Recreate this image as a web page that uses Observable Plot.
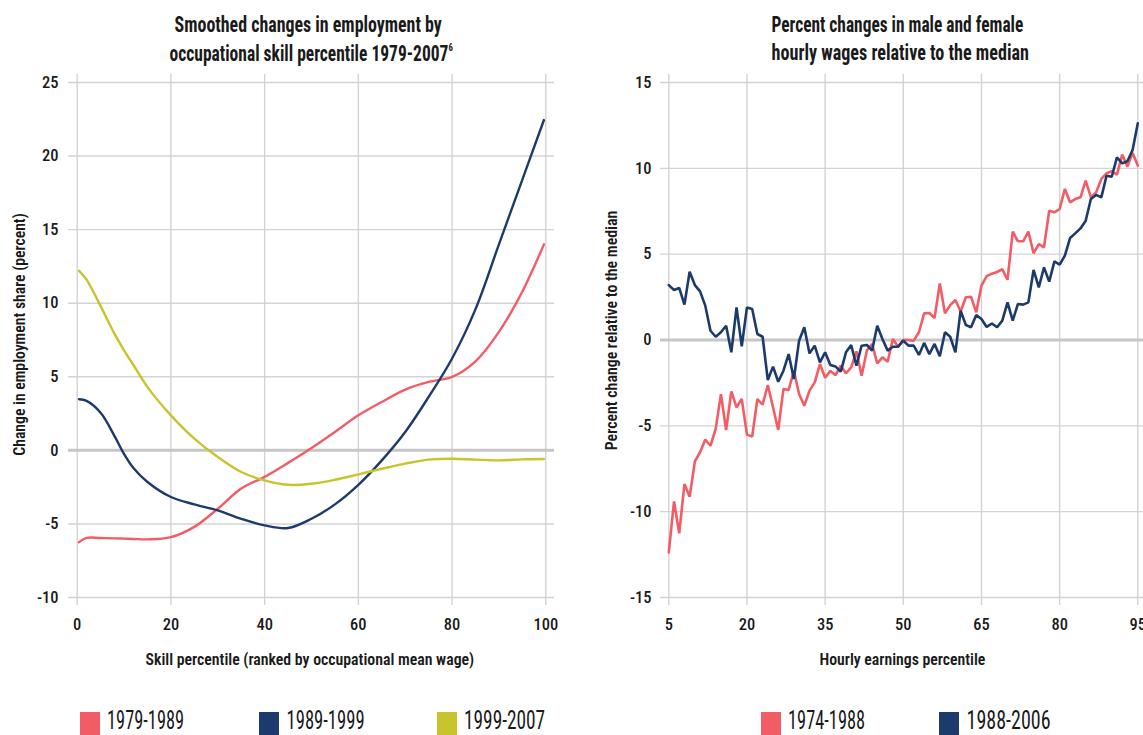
<!DOCTYPE html>
<html><head><meta charset="utf-8">
<script src="https://cdn.jsdelivr.net/npm/d3@7"></script>
<script src="https://cdn.jsdelivr.net/npm/@observablehq/plot@0.6"></script>
<style>
body{margin:0;background:#fff;}
#root{position:relative;width:1143px;height:735px;overflow:hidden;background:#fff;}
.abs{position:absolute;white-space:nowrap;}
svg{position:absolute;overflow:visible;}
</style></head><body><div id="root"></div>
<script>
// ---------- Left chart data ----------
const skillSeries = ["1979-1989", "1989-1999", "1999-2007"];
const skillPct = [0.4, 2, 5, 8, 10, 12, 15, 20, 25, 30, 35, 40, 45, 50, 55, 60, 65, 70, 75, 80, 85, 90, 95, 99.6];
const emp1979_1989 = [-6.24, -5.95, -5.96, -5.98, -6.0, -6.02, -6.05, -5.9, -5.2, -3.97, -2.6, -1.8, -0.85, 0.16, 1.25, 2.38, 3.29, 4.13, 4.65, 4.99, 6.05, 8.05, 10.8, 14.0];
const emp1989_1999 = [3.47, 3.36, 2.55, 0.95, -0.25, -1.2, -2.15, -3.17, -3.67, -4.08, -4.65, -5.1, -5.28, -4.65, -3.67, -2.34, -0.68, 1.25, 3.63, 6.24, 9.6, 14.0, 18.4, 22.45];
const emp1999_2007 = [12.2, 11.6, 9.8, 7.9, 6.8, 5.8, 4.3, 2.38, 0.8, -0.45, -1.47, -2.04, -2.34, -2.27, -2.0, -1.63, -1.25, -0.9, -0.63, -0.57, -0.63, -0.68, -0.61, -0.59];
const skillTicks = [0, 20, 40, 60, 80, 100];
const empTicks = [-10, -5, 0, 5, 10, 15, 20, 25];

// ---------- Right chart data ----------
const wageSeries = ["1974-1988", "1988-2006"];
const wagePct = [5,6,7,8,9,10,11,12,13,14,15,16,17,18,19,20,21,22,23,24,25,26,27,28,29,30,31,32,33,34,35,36,37,38,39,40,41,42,43,44,45,46,47,48,49,50,51,52,53,54,55,56,57,58,59,60,61,62,63,64,65,66,67,68,69,70,71,72,73,74,75,76,77,78,79,80,81,82,83,84,85,86,87,88,89,90,91,92,93,94,95];
const wage1974_1988 = [-12.37,-9.4,-11.26,-8.39,-9.13,-7.07,-6.54,-5.8,-6.16,-5.18,-3.15,-5.24,-2.99,-3.92,-3.44,-5.51,-5.63,-3.44,-3.77,-2.62,-3.92,-5.24,-2.85,-2.91,-1.79,-3.15,-3.83,-2.95,-2.47,-1.4,-2.2,-1.8,-2.05,-1.5,-1.94,-1.59,-0.66,-2.08,-0.62,-0.23,-1.36,-1.01,-1.26,0.06,-0.39,0,0,-0.04,0.45,1.55,1.57,1.28,3.3,1.55,2.03,2.33,1.66,2.49,2.52,1.61,3.17,3.72,3.86,3.96,4.12,3.51,6.31,5.75,5.75,6.31,5.05,5.59,5.4,7.53,7.44,7.63,8.8,8.02,8.21,8.31,9.28,8.31,8.6,9.38,9.71,9.83,9.63,10.8,10.1,10.9,10.16];
const wage1988_2006 = [3.2,2.91,3.03,2.06,3.98,3.2,2.83,2.0,0.54,0.19,0.45,0.83,-0.72,1.9,-0.37,1.9,1.81,0.35,0.19,-2.33,-1.55,-2.43,-1.79,-0.82,-2.27,-0.04,0.74,-0.78,-0.33,-1.3,-0.72,-1.46,-1.55,-1.84,-0.72,-0.29,-1.5,-0.33,-0.29,-0.62,0.83,0.06,-0.62,-0.39,-0.39,-0.04,-0.33,-0.33,-0.87,-0.17,-0.82,-0.23,-0.95,0.45,0.19,-0.72,1.71,0.87,0.74,1.46,1.22,0.76,0.96,0.74,1.13,2.19,1.13,2.1,2.06,2.19,4.08,3.07,4.23,3.4,4.58,4.39,4.91,5.94,6.21,6.5,6.95,8.21,8.45,8.31,9.57,9.51,10.64,10.29,10.41,11.07,12.62];
const wageXTicks = [5, 20, 35, 50, 65, 80, 95];
const wageYTicks = [-15, -10, -5, 0, 5, 10, 15];

// ---------- Styling ----------
const RED = "#f25c64", NAVY = "#1d3a6c", OLIVE = "#c8c42c", GRID = "#d3d3d3", ZERO = "#c6c6c6";
const FONT = '"Liberation Sans Narrow","Roboto Condensed","DejaVu Sans Condensed","Liberation Sans",Arial,sans-serif';
const fmt = d => (d < 0 ? "-" + Math.abs(d) : String(d));
const root = document.getElementById("root");

function fitText(html, {cx, cy, width, size, weight = 400, rotate = 0, lh = 1, color = "#1a1a1a"}) {
  const div = document.createElement("div");
  div.className = "abs";
  div.style.font = `${weight} ${size}px ${FONT}`;
  div.style.lineHeight = String(lh);
  div.style.color = color;
  div.innerHTML = html;
  root.appendChild(div);
  const w = div.offsetWidth, h = div.offsetHeight;
  const sx = width ? width / w : 1;
  div.style.left = (cx - w / 2) + "px";
  div.style.top = (cy - h / 2) + "px";
  div.style.transformOrigin = "50% 50%";
  div.style.transform = `${rotate ? `rotate(${rotate}deg) ` : ""}scaleX(${sx})`;
  return div;
}

// squeeze tick labels to the narrow width of the reference digits
function condenseTicks(svg, target) {
  const texts = [...svg.querySelectorAll("text")];
  const ref = texts.find(t => t.textContent === "20");
  const len = ref ? ref.getComputedTextLength() : 0;
  const f = len > 0 ? target / len : 1;
  if (f >= 1) return;
  texts.forEach(t => {
    const l = t.getComputedTextLength();
    if (l > 0) {
      t.setAttribute("textLength", (l * f).toFixed(2));
      t.setAttribute("lengthAdjust", "spacingAndGlyphs");
    }
  });
}

// ---------- Left chart ----------
const leftData = [];
skillPct.forEach((x, i) => {
  leftData.push({x, y: emp1979_1989[i], s: skillSeries[0]});
  leftData.push({x, y: emp1989_1999[i], s: skillSeries[1]});
  leftData.push({x, y: emp1999_2007[i], s: skillSeries[2]});
});

const left = Plot.plot({
  width: 571, height: 620,
  marginLeft: 68, marginRight: 17, marginTop: 14, marginBottom: 75,
  style: {fontFamily: FONT, fontSize: "16.5px", fontWeight: 500, color: "#1a1a1a", background: "none"},
  x: {domain: [0, 100], insetLeft: 8.7, insetRight: 8.7},
  y: {domain: [-10, 25], insetTop: 8, insetBottom: 8},
  color: {domain: skillSeries, range: [RED, NAVY, OLIVE]},
  marks: [
    Plot.gridX(skillTicks, {stroke: GRID, strokeOpacity: 1, strokeWidth: 1.4}),
    Plot.gridY(empTicks, {stroke: GRID, strokeOpacity: 1, strokeWidth: 1.4}),
    Plot.ruleY([0], {stroke: ZERO, strokeWidth: 3}),
    Plot.line(leftData, {x: "x", y: "y", stroke: "s", z: "s", strokeWidth: 2.4, curve: "catmull-rom"}),
    Plot.axisX(skillTicks, {tickSize: 0, tickPadding: 13, label: null, tickFormat: fmt}),
    Plot.axisY(empTicks, {tickSize: 0, tickPadding: 10, label: null, tickFormat: fmt})
  ]
});
left.style.left = "0px"; left.style.top = "60px";
root.appendChild(left);
condenseTicks(left, 17);

// ---------- Right chart ----------
const rightData = [];
wagePct.forEach((x, i) => {
  rightData.push({x, y: wage1974_1988[i], s: wageSeries[0]});
  rightData.push({x, y: wage1988_2006[i], s: wageSeries[1]});
});

const right = Plot.plot({
  width: 572, height: 620,
  marginLeft: 89, marginRight: 0, marginTop: 14, marginBottom: 75,
  style: {fontFamily: FONT, fontSize: "16.5px", fontWeight: 500, color: "#1a1a1a", background: "none"},
  x: {domain: [5, 95], insetLeft: 8.3, insetRight: 5.7},
  y: {domain: [-15, 15], insetTop: 8, insetBottom: 8},
  color: {domain: wageSeries, range: [RED, NAVY]},
  marks: [
    Plot.gridX(wageXTicks, {stroke: GRID, strokeOpacity: 1, strokeWidth: 1.4}),
    Plot.gridY(wageYTicks, {stroke: GRID, strokeOpacity: 1, strokeWidth: 1.4}),
    Plot.ruleY([0], {stroke: ZERO, strokeWidth: 3}),
    Plot.line(rightData, {x: "x", y: "y", stroke: "s", z: "s", strokeWidth: 2.6, strokeLinejoin: "miter"}),
    Plot.axisX(wageXTicks, {tickSize: 0, tickPadding: 13, label: null, tickFormat: fmt}),
    Plot.axisY(wageYTicks, {tickSize: 0, tickPadding: 9, label: null, tickFormat: fmt})
  ]
});
right.style.left = "571px"; right.style.top = "60px";
root.appendChild(right);
condenseTicks(right, 17);

// ---------- Titles ----------
fitText("Smoothed changes in employment by", {cx: 307.5, cy: 24.5, width: 267, size: 22, weight: 700});
fitText('occupational skill percentile 1979-2007<sup style="font-size:0.5em;vertical-align:0.9em">6</sup>', {cx: 310.5, cy: 53, width: 283, size: 22, weight: 700});
fitText("Percent changes in male and female", {cx: 897.5, cy: 24.5, width: 252, size: 22, weight: 700});
fitText("hourly wages relative to the median", {cx: 900, cy: 53, width: 257, size: 22, weight: 700});

// ---------- Axis titles ----------
fitText("Skill percentile (ranked by occupational mean wage)", {cx: 310, cy: 659, width: 329, size: 17, weight: 600});
fitText("Hourly earnings percentile", {cx: 902, cy: 659, width: 166, size: 17, weight: 600});
fitText("Change in employment share (percent)", {cx: 19, cy: 334, width: 242, size: 17, weight: 600, rotate: -90});
fitText("Percent change relative to the median", {cx: 611, cy: 330, width: 240, size: 17, weight: 600, rotate: -90});

// ---------- Legends ----------
const legendItems = [
  {label: skillSeries[0], color: RED, x: 80, w: 77},
  {label: skillSeries[1], color: NAVY, x: 259, w: 78},
  {label: skillSeries[2], color: OLIVE, x: 437, w: 81},
  {label: wageSeries[0], color: RED, x: 761, w: 77},
  {label: wageSeries[1], color: NAVY, x: 939, w: 84}
];
legendItems.forEach(it => {
  const sq = document.createElement("div");
  sq.className = "abs";
  Object.assign(sq.style, {left: it.x + "px", top: "712px", width: "20px", height: "23px", background: it.color});
  root.appendChild(sq);
  fitText(it.label, {cx: it.x + 27 + it.w / 2, cy: 720.5, width: it.w, size: 26, weight: 400, lh: 0.8});
});
</script>
</body></html>
